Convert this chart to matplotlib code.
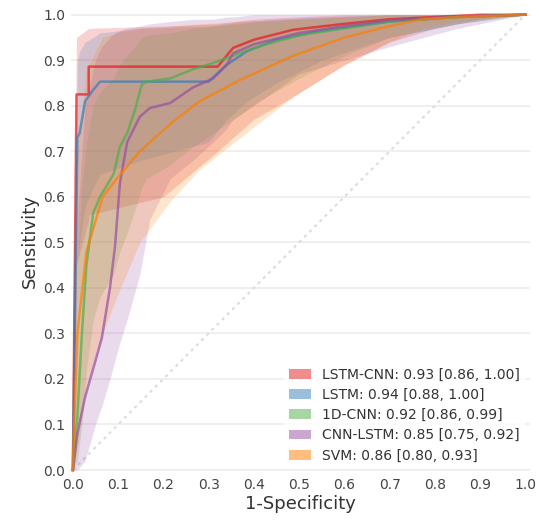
import matplotlib
matplotlib.use("Agg")
import matplotlib.pyplot as plt
from matplotlib.patches import Patch

# ROC curves (mean curve + CI band)
red_fpr = [0.0, 0.008, 0.035, 0.035, 0.20, 0.32, 0.354, 0.40, 0.487, 0.60, 0.70, 0.80, 0.90, 1.0]
red_tpr = [0.0, 0.825, 0.825, 0.886, 0.886, 0.886, 0.927, 0.945, 0.967, 0.98, 0.99, 0.995, 1.0, 1.0]
red_lo = [0.0, 0.45, 0.55, 0.56, 0.60, 0.70, 0.73, 0.77, 0.82, 0.89, 0.94, 0.97, 0.99, 1.0]
red_hi = [0.3, 0.95, 0.97, 0.97, 0.975, 0.98, 0.985, 0.99, 0.995, 1.0, 1.0, 1.0, 1.0, 1.0]

blue_fpr = [0.0, 0.01, 0.015, 0.027, 0.045, 0.06, 0.15, 0.30, 0.34, 0.385, 0.45, 0.55, 0.70, 0.85, 1.0]
blue_tpr = [0.0, 0.73, 0.74, 0.81, 0.835, 0.853, 0.853, 0.853, 0.89, 0.92, 0.945, 0.965, 0.985, 0.995, 1.0]
blue_lo = [0.0, 0.45, 0.50, 0.58, 0.62, 0.65, 0.68, 0.72, 0.77, 0.81, 0.85, 0.90, 0.95, 0.98, 1.0]
blue_hi = [0.2, 0.90, 0.92, 0.94, 0.95, 0.96, 0.97, 0.975, 0.98, 0.985, 0.99, 0.995, 1.0, 1.0, 1.0]

green_fpr = [0.0, 0.01, 0.02, 0.03, 0.045, 0.06, 0.09, 0.104, 0.12, 0.137, 0.152, 0.163,
             0.215, 0.265, 0.31, 0.37, 0.41, 0.50, 0.60, 0.70, 0.85, 1.0]
green_tpr = [0.0, 0.12, 0.30, 0.45, 0.565, 0.60, 0.65, 0.71, 0.74, 0.79, 0.846, 0.853,
             0.86, 0.88, 0.894, 0.916, 0.93, 0.955, 0.97, 0.985, 0.995, 1.0]
green_lo = [0.0, 0.02, 0.10, 0.22, 0.33, 0.38, 0.43, 0.48, 0.52, 0.57, 0.62, 0.64,
            0.67, 0.71, 0.74, 0.78, 0.81, 0.86, 0.91, 0.95, 0.98, 1.0]
green_hi = [0.1, 0.45, 0.62, 0.72, 0.80, 0.83, 0.86, 0.89, 0.91, 0.93, 0.95, 0.955,
            0.96, 0.97, 0.975, 0.98, 0.985, 0.99, 0.995, 1.0, 1.0, 1.0]

purple_fpr = [0.0, 0.01, 0.027, 0.05, 0.064, 0.082, 0.093, 0.104, 0.12, 0.148, 0.17, 0.215,
              0.265, 0.31, 0.34, 0.354, 0.40, 0.50, 0.60, 0.70, 0.85, 1.0]
purple_tpr = [0.0, 0.08, 0.16, 0.24, 0.29, 0.40, 0.49, 0.63, 0.72, 0.776, 0.795, 0.806,
              0.84, 0.86, 0.89, 0.915, 0.935, 0.96, 0.975, 0.988, 0.996, 1.0]
purple_lo = [0.0, 0.0, 0.02, 0.10, 0.14, 0.20, 0.24, 0.28, 0.33, 0.43, 0.55, 0.64,
             0.68, 0.72, 0.75, 0.77, 0.80, 0.87, 0.90, 0.93, 0.97, 1.0]
purple_hi = [0.2, 0.55, 0.80, 0.90, 0.93, 0.95, 0.96, 0.965, 0.97, 0.975, 0.98, 0.985,
             0.99, 0.99, 0.995, 0.995, 1.0, 1.0, 1.0, 1.0, 1.0, 1.0]

svm_fpr = [0.0, 0.002, 0.01, 0.03, 0.066, 0.097, 0.148, 0.215, 0.28, 0.37, 0.487, 0.60, 0.70, 0.77, 0.85, 1.0]
svm_tpr = [0.0, 0.08, 0.30, 0.48, 0.60, 0.64, 0.70, 0.76, 0.81, 0.857, 0.91, 0.95, 0.975, 0.99, 0.995, 1.0]
svm_lo = [0.0, 0.0, 0.05, 0.18, 0.30, 0.38, 0.50, 0.59, 0.66, 0.73, 0.82, 0.89, 0.94, 0.97, 0.985, 1.0]
svm_hi = [0.3, 0.45, 0.70, 0.88, 0.95, 0.96, 0.97, 0.975, 0.98, 0.985, 0.99, 0.995, 1.0, 1.0, 1.0, 1.0]

labels = ["LSTM-CNN: 0.93 [0.86, 1.00]",
          "LSTM: 0.94 [0.88, 1.00]",
          "1D-CNN: 0.92 [0.86, 0.99]",
          "CNN-LSTM: 0.85 [0.75, 0.92]",
          "SVM: 0.86 [0.80, 0.93]"]
colors = ["#e41a1c", "#377eb8", "#4daf4a", "#984ea3", "#ff7f00"]

curves = [(red_fpr, red_tpr, red_lo, red_hi),
          (blue_fpr, blue_tpr, blue_lo, blue_hi),
          (green_fpr, green_tpr, green_lo, green_hi),
          (purple_fpr, purple_tpr, purple_lo, purple_hi),
          (svm_fpr, svm_tpr, svm_lo, svm_hi)]

fig = plt.figure(figsize=(5.39, 5.21), dpi=100)
ax = fig.add_axes([0.131, 0.0935, 0.852, 0.887])

ax.plot([0, 1], [0, 1], linestyle=(0, (1.5, 2)), color="#dcdcdc", lw=1.5, zorder=1)

for (f, t, lo, hi), c in zip(curves, colors):
    ax.fill_between(f, lo, hi, color=c, alpha=0.2, lw=0, zorder=2)
for (f, t, lo, hi), c in zip(curves, colors):
    ax.plot(f, t, color=c, lw=1.8, alpha=0.7, zorder=3)

ax.set_xlim(-0.005, 1.01)
ax.set_ylim(-0.005, 1.01)
ticks = [i / 10 for i in range(11)]
ax.set_xticks(ticks)
ax.set_yticks(ticks)
ax.set_xticklabels(["%.1f" % v for v in ticks])
ax.set_yticklabels(["%.1f" % v for v in ticks])
ax.tick_params(length=0, labelsize=10, colors="#444444", pad=4)
ax.grid(axis="y", color="#ececec", lw=1.2)
ax.set_axisbelow(True)
for s in ax.spines.values():
    s.set_visible(False)

ax.set_xlabel("1-Specificity", fontsize=13, color="#333333", labelpad=2)
ax.set_ylabel("Sensitivity", fontsize=13, color="#333333", labelpad=3)

handles = [Patch(facecolor=c, alpha=0.5, edgecolor="none") for c in colors]
ax.legend(handles, labels, loc="lower right", fontsize=10, frameon=True,
          framealpha=0.8, edgecolor="none", facecolor="white",
          handlelength=1.6, handleheight=0.7, labelspacing=0.45,
          borderaxespad=0.3, labelcolor="#333333")

fig.savefig("out.png", dpi=100)
